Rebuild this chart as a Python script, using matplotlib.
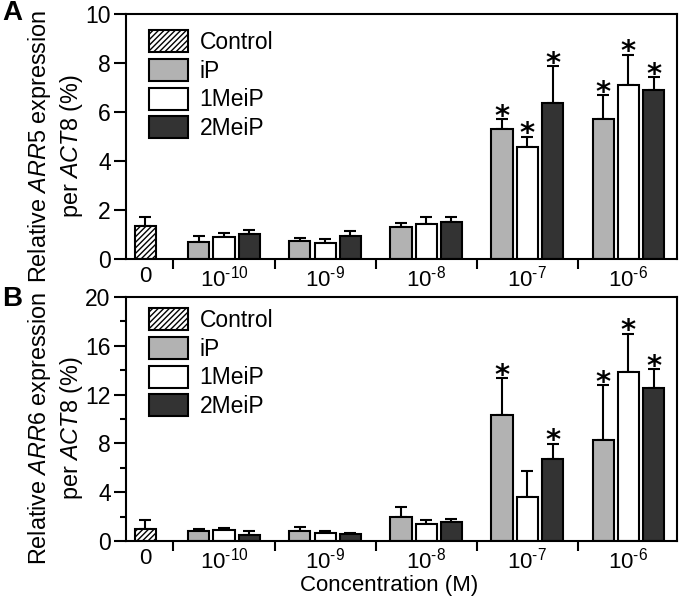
import numpy as np
import matplotlib.pyplot as plt
from matplotlib.patches import Patch

plt.rcParams['font.family'] = ['Liberation Sans', 'DejaVu Sans']
plt.rcParams['mathtext.fontset'] = 'custom'
plt.rcParams['mathtext.rm'] = 'Liberation Sans'
plt.rcParams['mathtext.it'] = 'Liberation Sans:italic'
plt.rcParams['hatch.linewidth'] = 1.0

# dane
stezenia = ['10$^{\\text{-10}}$', '10$^{\\text{-9}}$', '10$^{\\text{-8}}$',
            '10$^{\\text{-7}}$', '10$^{\\text{-6}}$']
serie = ['iP', '1MeiP', '2MeiP']

# panel A - ARR5
kontrolaA, kontrolaA_err = 1.33, 0.40
iP_A = [0.70, 0.75, 1.29, 5.31, 5.70]
iP_A_err = [0.24, 0.12, 0.17, 0.40, 0.99]
m1_A = [0.90, 0.67, 1.43, 4.57, 7.11]
m1_A_err = [0.16, 0.16, 0.27, 0.42, 1.22]
m2_A = [1.02, 0.94, 1.52, 6.38, 6.90]
m2_A_err = [0.16, 0.21, 0.21, 1.50, 0.52]
gwiazdkiA = [[0, 0, 0, 1, 1], [0, 0, 0, 1, 1], [0, 0, 0, 1, 1]]

# panel B - ARR6
kontrolaB, kontrolaB_err = 0.98, 0.74
iP_B = [0.85, 0.85, 1.94, 10.30, 8.28]
iP_B_err = [0.15, 0.27, 0.82, 3.06, 4.48]
m1_B = [0.90, 0.68, 1.42, 3.63, 13.88]
m1_B_err = [0.19, 0.17, 0.30, 2.08, 3.12]
m2_B = [0.49, 0.55, 1.56, 6.75, 12.54]
m2_B_err = [0.36, 0.10, 0.24, 1.23, 1.56]
gwiazdkiB = [[0, 0, 0, 1, 1], [0, 0, 0, 0, 1], [0, 0, 0, 1, 1]]

kolory = ['#b2b2b2', 'white', '#333333']

fig = plt.figure(figsize=(6.81, 5.96), dpi=100)
axA = fig.add_axes([0.185, 0.5654, 0.809, 0.4111])
axB = fig.add_axes([0.185, 0.0923, 0.809, 0.4094])


def rysuj(ax, kontrola, kontrola_err, dane, bledy, gwiazdki, ymax, krok, gene, legenda_y):
    x = np.arange(1, 6)
    sz = 0.21
    # kontrola
    ax.bar(0.22, kontrola, sz, color='white', edgecolor='black', hatch='//////',
           linewidth=1.5, zorder=2)
    ax.errorbar(0.22, kontrola, yerr=[[0], [kontrola_err]], fmt='none', ecolor='black',
                capsize=4.5, elinewidth=1.5, capthick=1.5, zorder=1)
    for i in range(3):
        xi = x + (i - 1) * 0.25
        ax.bar(xi, dane[i], sz, color=kolory[i], edgecolor='black', linewidth=1.5, zorder=2)
        ax.errorbar(xi, dane[i], yerr=[np.zeros(5), bledy[i]], fmt='none', ecolor='black',
                    capsize=4.5, elinewidth=1.5, capthick=1.5, zorder=1)
        for j in range(5):
            if gwiazdki[i][j]:
                ax.annotate('*', xy=(xi[j], dane[i][j] + bledy[i][j]), xytext=(0, -4),
                            textcoords='offset points', ha='center', va='baseline',
                            fontsize=21, fontweight='bold', family='DejaVu Sans')
    ax.set_xlim(0.03, 5.48)
    ax.set_ylim(0, ymax)
    ax.set_yticks(np.arange(0, ymax + 0.1, krok))
    if ymax == 20:
        ax.set_yticks(np.arange(2, ymax, 4), minor=True)
    ax.set_xticks([0.22] + list(x))
    ax.set_xticklabels(['0'] + stezenia)
    ax.set_xticks(np.arange(0.5, 5.0, 1.0), minor=True)
    ax.tick_params(axis='x', which='major', length=0, labelsize=16, pad=5)
    ax.tick_params(axis='x', which='minor', length=7, width=1.5, direction='out')
    ax.tick_params(axis='y', which='major', length=9, width=1.5, labelsize=16.5, pad=2)
    ax.tick_params(axis='y', which='minor', length=4, width=1.5)
    for s in ax.spines.values():
        s.set_linewidth(1.5)
    ax.set_ylabel('Relative $\\it{' + gene + '}$ expression\nper $\\it{ACT8}$ (%)',
                  fontsize=16.8, linespacing=1.25)
    ax.yaxis.set_label_coords(-0.074, 0.46)
    uchwyty = [Patch(facecolor='white', edgecolor='black', hatch='//////', linewidth=1.5)]
    uchwyty += [Patch(facecolor=k, edgecolor='black', linewidth=1.5) for k in kolory]
    ax.legend(uchwyty, ['Control'] + serie, loc='upper left', bbox_to_anchor=(0.042, legenda_y),
              frameon=False, fontsize=16.5, handlelength=1.7, handleheight=1.1,
              handletextpad=0.5, labelspacing=0.22, borderpad=0, borderaxespad=0)


rysuj(axA, kontrolaA, kontrolaA_err, [iP_A, m1_A, m2_A], [iP_A_err, m1_A_err, m2_A_err],
      gwiazdkiA, 10, 2, 'ARR5', 0.935)
rysuj(axB, kontrolaB, kontrolaB_err, [iP_B, m1_B, m2_B], [iP_B_err, m1_B_err, m2_B_err],
      gwiazdkiB, 20, 4, 'ARR6', 0.955)
axB.set_xlabel('Concentration (M)', fontsize=16)
axB.xaxis.set_label_coords(0.477, -0.138)

fig.text(0.003, 0.978, 'A', fontsize=20, fontweight='bold', va='center')
fig.text(0.003, 0.498, 'B', fontsize=20, fontweight='bold', va='center')

fig.savefig('out.png', dpi=100)
